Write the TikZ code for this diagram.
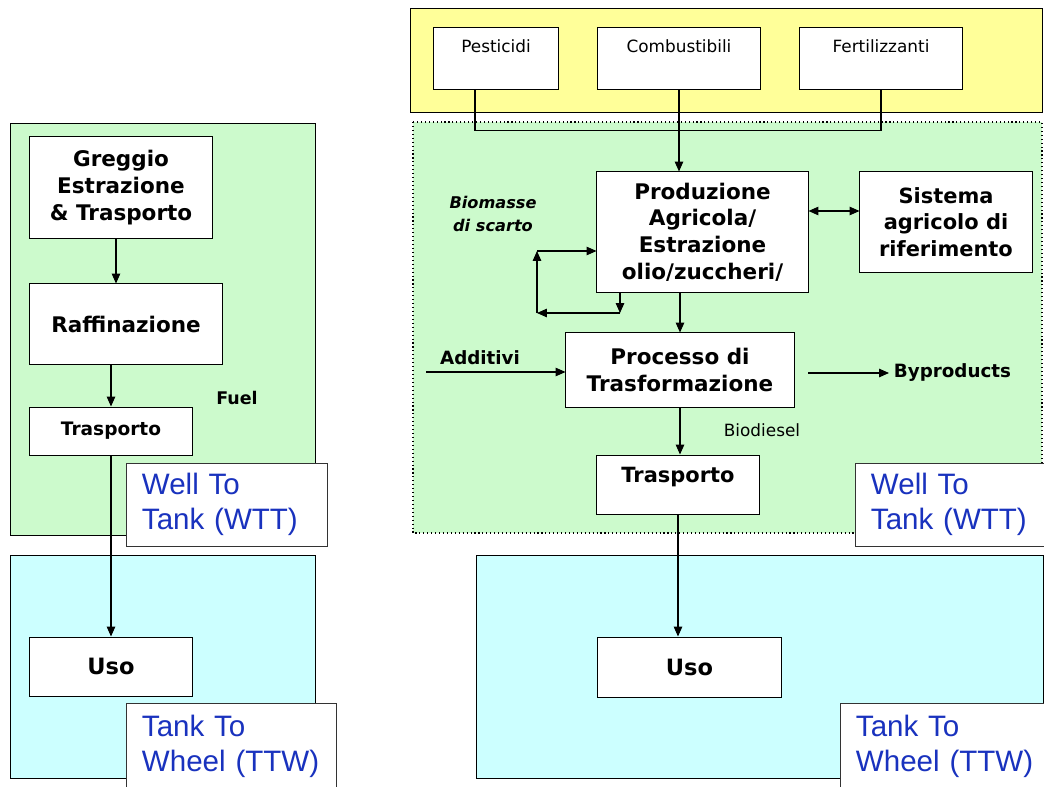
\documentclass[tikz,border=0pt]{standalone}
\usepackage{fontspec}
\setmainfont{DejaVu Sans}
\newfontfamily\labfont{Liberation Sans}
\usetikzlibrary{arrows.meta}

\definecolor{zonegreen}{RGB}{204,250,204}
\definecolor{zonecyan}{RGB}{204,255,255}
\definecolor{zoneyellow}{RGB}{255,255,153}
\definecolor{wttblue}{RGB}{25,50,190}

\tikzset{
  box/.style={draw, fill=white, line width=0.7pt, align=center, inner sep=0pt,
              font=\fontsize{15.3}{19}\selectfont\bfseries},
  inputbox/.style={box, font=\fontsize{12}{14}\selectfont, text height=0.625cm, text depth=0.9cm},
  labelbox/.style={draw=black!80, fill=white, line width=0.7pt, align=left,
                   inner xsep=0.375cm, inner ysep=0pt, text width=#1, text=wttblue,
                   font=\labfont\fontsize{21}{25}\selectfont},
  zone/.style={draw, line width=0.7pt},
  flow/.style={->, line width=0.8pt},
  note/.style={font=\fontsize{13}{15}\selectfont\bfseries}
}

\begin{document}
\begin{tikzpicture}[x=0.025cm, y=-0.025cm, >={Triangle[length=7pt, width=6pt]}]
\useasboundingbox (0,0) rectangle (1044,787);
\clip (0,0) rectangle (1044,787);
\fill[white] (0,0) rectangle (1044,787);

% fasce di fondo
\filldraw[zone, fill=zonegreen] (10,123) rectangle (315,535);
\filldraw[zone, fill=zonecyan] (10,555) rectangle (315,778);
\filldraw[zone, fill=zoneyellow] (410,8) rectangle (1042,112);
\filldraw[fill=zonegreen, line width=0.8pt, dotted] (413,122) rectangle (1042,533);
\filldraw[zone, fill=zonecyan] (476,555) rectangle (1043,778);

% filiera fossile
\node[box, minimum width=4.55cm, minimum height=2.525cm] (greggio) at (121,187.5) {Greggio\\Estrazione\\\& Trasporto};
\node[box, minimum width=4.8cm, minimum height=2cm] (raff) at (126,324) {Raffinazione};
\node[box, minimum width=4.05cm, minimum height=1.2cm, font=\fontsize{13.2}{16}\selectfont\bfseries] (traspL) at (111,431) {Trasporto};
\node[note, font=\fontsize{12.4}{15}\selectfont\bfseries] (fuel) at (237,398) {Fuel};
\node[box, minimum width=4.05cm, minimum height=1.475cm, font=\fontsize{16}{19}\selectfont\bfseries] (usoL) at (111,666.5) {Uso};
\node[labelbox=4.25cm, minimum height=2.075cm] (wttL) at (227,504.5) {Well To\\Tank (WTT)};
\node[labelbox=4.475cm, minimum height=2.175cm] (ttwL) at (231.5,746.5) {Tank To\\Wheel (TTW)};

\draw[flow] ([xshift=-0.125cm]greggio.south) -- ([xshift=-0.125cm]greggio.south |- raff.north);
\draw[flow] (raff.south -| traspL.north) -- (traspL.north);
\draw[flow] (traspL.south) -- (usoL.north);

% filiera biodiesel
\node[inputbox, minimum width=3.1cm] (pest) at (496,58.5) {Pesticidi};
\node[inputbox, minimum width=4.05cm] (comb) at (679,58.5) {Combustibili};
\node[inputbox, minimum width=4.05cm] (fert) at (881,58.5) {Fertilizzanti};
\node[box, minimum width=5.275cm, minimum height=3cm] (prod) at (702.5,232) {Produzione\\Agricola/\\Estrazione\\olio/zuccheri/};
\node[box, minimum width=4.3cm, minimum height=2.5cm, font=\fontsize{14.9}{19}\selectfont\bfseries] (sist) at (946,222) {Sistema\\agricolo di\\riferimento};
\node[box, minimum width=5.7cm, minimum height=1.85cm] (proc) at (680,370) {Processo di\\Trasformazione};
\node[box, minimum width=4.05cm, text height=0.675cm, text depth=0.8cm, font=\fontsize{14.9}{19}\selectfont\bfseries] (traspR) at (678,484.5) {Trasporto};
\node[box, minimum width=4.575cm, minimum height=1.5cm, font=\fontsize{16}{19}\selectfont\bfseries] (usoR) at (689.5,667) {Uso};
\node[labelbox=4cm, minimum height=2.075cm] (wttR) at (951,504.5) {Well To\\Tank (WTT)};
\node[labelbox=4.5cm, minimum height=2.175cm] (ttwR) at (946,746.5) {Tank To\\Wheel (TTW)};

\node[font=\fontsize{11.5}{16.4}\selectfont\bfseries\itshape, align=center] (biomasse) at (493,214) {Biomasse\\di scarto};
\node[note] (additivi) at (480,358) {Additivi};
\node[note, anchor=west] (byprod) at (889,373) {Byproducts};
\node[font=\fontsize{12}{14}\selectfont] (biodiesel) at (762,430) {Biodiesel};

\coordinate (sistin) at ([yshift=0.275cm]sist.west);
\coordinate (loopa) at (620,313);
\coordinate (loopb) at (537,313);
\coordinate (loopc) at (537,251);
\coordinate (addin) at (426,372);
\coordinate (byout) at (808,373);

\draw[line width=0.8pt] ([xshift=-0.525cm]pest.south) -- ++(0,41) -| (fert.south);
\draw[flow] (comb.south) -- (comb.south |- prod.north);
\draw[flow, <->] (sistin) -- (sistin -| prod.east);
\draw[flow] (prod.south -| loopa) -- (loopa);
\draw[flow] (loopa) -- (loopb);
\draw[flow] (loopb) -- (loopc);
\draw[flow] (loopc) -- (loopc -| prod.west);
\draw[flow] (addin) -- (addin -| proc.west);
\draw[flow] (proc.north |- prod.south) -- (proc.north);
\draw[flow] (byout) -- (byprod.west);
\draw[flow] (proc.south) -- (proc.south |- traspR.north);
\draw[flow] (traspR.south) -- (traspR.south |- usoR.north);

\end{tikzpicture}
\end{document}
